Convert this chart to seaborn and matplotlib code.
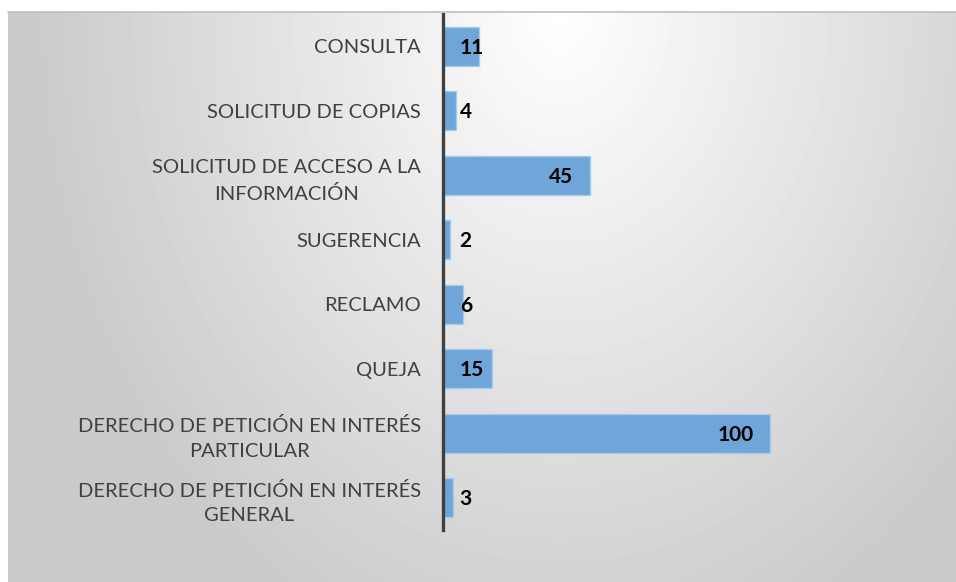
import matplotlib
matplotlib.use("Agg")
import matplotlib.pyplot as plt
import numpy as np
import seaborn as sns

categories = [
    "CONSULTA",
    "SOLICITUD DE COPIAS",
    "SOLICITUD DE ACCESO A LA\nINFORMACIÓN",
    "SUGERENCIA",
    "RECLAMO",
    "QUEJA",
    "DERECHO DE PETICIÓN EN INTERÉS\nPARTICULAR",
    "DERECHO DE PETICIÓN EN INTERÉS\nGENERAL",
]
values = [11, 4, 45, 2, 6, 15, 100, 3]

sns.set_style("white")
plt.rcParams["font.family"] = ["Lato", "DejaVu Sans"]

W, H = 956, 582
fig = plt.figure(figsize=(W / 100, H / 100), dpi=100, facecolor="white")

# gradient background panel
bg = fig.add_axes([8 / W, 0, 1 - 8 / W, (H - 12) / H], zorder=0)
xx, yy = np.meshgrid(np.arange(8, W), np.arange(12, H))
d = np.sqrt(((xx - 560) / 560.0) ** 2 + ((yy - 12) / 720.0) ** 2)
shade = np.clip(1 - 0.22 * d, 0.79, 1.0)
bg.imshow(shade, cmap="gray", vmin=0, vmax=1, aspect="auto",
          interpolation="bilinear")
bg.set_axis_off()
fig.add_artist(plt.Line2D([8 / W, 1], [1 - 12 / H, 1 - 12 / H],
                          color="#bfbfbf", lw=1.2))

ax = fig.add_axes([443 / W, 1 - 530 / H, (W - 443 - 16) / W, (530 - 14) / H],
                  zorder=1)
ax.patch.set_alpha(0)
sns.barplot(x=values, y=categories, orient="h", color="#6fa5d8",
            saturation=1, width=0.6, edgecolor="#a9cbea", linewidth=1, ax=ax)

ax.set_xlim(0, (W - 443 - 16) / 3.27)
ax.set_ylim(7.5, -0.5)
ax.set_xlabel("")
ax.set_ylabel("")
ax.set_xticks([])
for s in ["top", "right", "bottom"]:
    ax.spines[s].set_visible(False)
ax.spines["left"].set_color("#404040")
ax.spines["left"].set_linewidth(2.4)
ax.tick_params(axis="y", length=0, pad=16, labelsize=14.5, labelcolor="#404040")
for lab in ax.get_yticklabels():
    lab.set_multialignment("center")
    lab.set_linespacing(1.55)

for i, v in enumerate(values):
    if v > 30:
        ax.annotate(str(v), (v, i), xytext=(-12, -1), textcoords="offset points",
                    ha="right", va="center", fontsize=15, fontweight="bold",
                    color="black")
    else:
        ax.annotate(str(v), (0, i), xytext=(12, -1), textcoords="offset points",
                    ha="left", va="center", fontsize=15, fontweight="bold",
                    color="black")

fig.savefig("out.png", dpi=100)
